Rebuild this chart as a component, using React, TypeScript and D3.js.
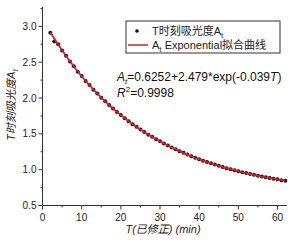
import React from "react";
import * as d3 from "d3";

const times = [2,3,4,5,6,7,8,9,10,11,12,13,14,15,16,17,18,19,20,21,22,23,24,25,26,27,28,29,30,31,32,33,34,35,36,37,38,39,40,41,42,43,44,45,46,47,48,49,50,51,52,53,54,55,56,57,58,59,60,61,62];
const absorbance = [2.912,2.79,2.75,2.662,2.59,2.508,2.442,2.368,2.306,2.236,2.18,2.116,2.063,2.004,1.955,1.901,1.855,1.806,1.763,1.717,1.677,1.635,1.598,1.559,1.526,1.489,1.458,1.424,1.396,1.364,1.338,1.309,1.284,1.257,1.235,1.21,1.189,1.166,1.147,1.125,1.108,1.088,1.072,1.053,1.038,1.021,1.007,0.991,0.979,0.963,0.952,0.938,0.928,0.914,0.905,0.893,0.884,0.873,0.865,0.854,0.847];
const fitValues = [2.918,2.831,2.746,2.665,2.587,2.512,2.440,2.370,2.304,2.239,2.178,2.118,2.061,2.006,1.953,1.903,1.854,1.807,1.762,1.718,1.676,1.636,1.597,1.560,1.525,1.490,1.457,1.425,1.395,1.365,1.337,1.310,1.283,1.258,1.234,1.211,1.188,1.167,1.146,1.126,1.107,1.089,1.071,1.054,1.037,1.022,1.006,0.992,0.978,0.964,0.951,0.939,0.927,0.915,0.904,0.894,0.883,0.874,0.864,0.855,0.846];
const xTicks = [0, 10, 20, 30, 40, 50, 60];
const yTicks = [0.5, 1.0, 1.5, 2.0, 2.5, 3.0];

export default function App() {
  const x = d3.scaleLinear().domain([0, 62.35]).range([42.5, 286.7]);
  const y = d3.scaleLinear().domain([0.5, 3.27]).range([205.5, 7]);
  const xMinor = d3.range(5, 62, 10);
  const yMinor = d3.range(0.75, 3.26, 0.5);
  const line = d3.line<number>().x((_, i) => x(times[i])).y((d) => y(d)).curve(d3.curveMonotoneX);
  const font = "'Liberation Sans', Arial, 'Noto Sans CJK SC', sans-serif";
  const axisColor = "#333";
  return (
    <svg width={302} height={242} style={{ position: "absolute", left: 0, top: 0, background: "#fff" }} fontFamily={font}>
      <rect width={302} height={242} fill="#fff" />
      {/* axes */}
      <line x1={x(0)} x2={x(0)} y1={y(3.27)} y2={y(0.5)} stroke={axisColor} strokeWidth={1} />
      <line x1={x(0)} x2={x(62.35)} y1={y(0.5)} y2={y(0.5)} stroke={axisColor} strokeWidth={1} />
      {yTicks.map((t) => (
        <g key={"y" + t}>
          <line x1={x(0) - 4} x2={x(0)} y1={y(t)} y2={y(t)} stroke={axisColor} />
          <text x={x(0) - 6} y={y(t) + 3.5} fontSize={10} textAnchor="end" fill="#222">{t.toFixed(1)}</text>
        </g>
      ))}
      {yMinor.map((t) => (
        <line key={"ym" + t} x1={x(0) - 2} x2={x(0)} y1={y(t)} y2={y(t)} stroke={axisColor} />
      ))}
      {xTicks.map((t) => (
        <g key={"x" + t}>
          <line x1={x(t)} x2={x(t)} y1={y(0.5)} y2={y(0.5) + 4} stroke={axisColor} />
          <text x={x(t)} y={y(0.5) + 15} fontSize={10} textAnchor="middle" fill="#222">{t}</text>
        </g>
      ))}
      {xMinor.map((t) => (
        <line key={"xm" + t} x1={x(t)} x2={x(t)} y1={y(0.5)} y2={y(0.5) + 2} stroke={axisColor} />
      ))}
      {/* data */}
      {absorbance.map((v, i) => (
        <circle key={"p" + i} cx={x(times[i])} cy={y(v)} r={2} fill="#111" />
      ))}
      <path d={line(fitValues) || ""} fill="none" stroke="#d61f28" strokeWidth={1.8} />
      {/* axis titles */}
      <text x={163} y={233} fontSize={11} textAnchor="middle" fontStyle="italic" fill="#222">T(已修正) (min)</text>
      <text transform="translate(15,105) rotate(-90)" fontSize={11} textAnchor="middle" fontStyle="italic" fill="#222">
        T时刻吸光度A<tspan fontSize={8} dy={3}>t</tspan>
      </text>
      {/* legend */}
      <rect x={126} y={21} width={154} height={32} fill="#fff" stroke="#333" strokeWidth={1} />
      <circle cx={137} cy={31} r={1.8} fill="#111" />
      <text x={152} y={35} fontSize={11} fill="#222">T时刻吸光度A<tspan fontSize={8} dy={3}>t</tspan></text>
      <line x1={128} x2={148} y1={45} y2={45} stroke="#d61f28" strokeWidth={1.5} />
      <text x={152} y={49} fontSize={11} fill="#222">A<tspan fontSize={8} dy={3}>t</tspan><tspan dy={-3}> Exponential拟合曲线</tspan></text>
      {/* equation */}
      <text x={117} y={81} fontSize={12} fill="#111">
        <tspan fontStyle="italic">A</tspan><tspan fontSize={8} dy={3} fontStyle="italic">t</tspan><tspan dy={-3}>=0.6252+2.479*exp(-0.039</tspan><tspan fontStyle="italic">T</tspan>)
      </text>
      <text x={117} y={97} fontSize={12} fill="#111">
        <tspan fontStyle="italic">R</tspan><tspan fontSize={8} dy={-5}>2</tspan><tspan dy={5}>=0.9998</tspan>
      </text>
    </svg>
  );
}
